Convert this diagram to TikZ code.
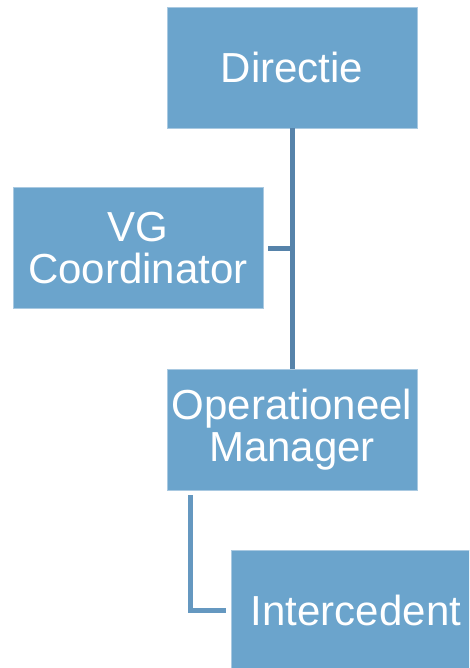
\documentclass[tikz,border=0pt]{standalone}
\usepackage{fontspec}
\setmainfont{Liberation Sans}
\definecolor{boxfill}{HTML}{6BA4CC}
\definecolor{boxedge}{HTML}{A9C9E1}
\definecolor{linkA}{HTML}{5683AA}
\definecolor{linkB}{HTML}{6598C0}
\begin{document}
\begin{tikzpicture}[x=1pt,y=-1pt,
  orgbox/.style={rectangle, fill=boxfill, draw=boxedge, line width=0.8pt,
    minimum width=250pt, minimum height=121pt, inner sep=0pt,
    text=white, align=center, font=\fontsize{42}{42}\selectfont},
  linkup/.style={draw=linkA, line width=5pt},
  linkdown/.style={draw=linkB, line width=5pt}]
\useasboundingbox (0,0) rectangle (469,668);
\clip (0,0) rectangle (469,668);
\node[orgbox] (dir) at (292,67.5) {Directie};
\node[orgbox] (vg) at (138,248) {VG\\Coordinator};
\node[orgbox] (op) at (292,429.5) {Operationeel\\Manager};
\node[orgbox] (int) at (356,610.5) {Intercedent};
\draw[linkup] (dir.south) -- (op.north);
\draw[linkup, shorten <=5pt] (vg.east) -- (vg.east -| dir.south);
\coordinate (opdown) at ([xshift=-102pt]op.south);
\draw[linkdown, shorten <=5pt, shorten >=5pt] (opdown) |- (int.west);
\end{tikzpicture}
\end{document}
